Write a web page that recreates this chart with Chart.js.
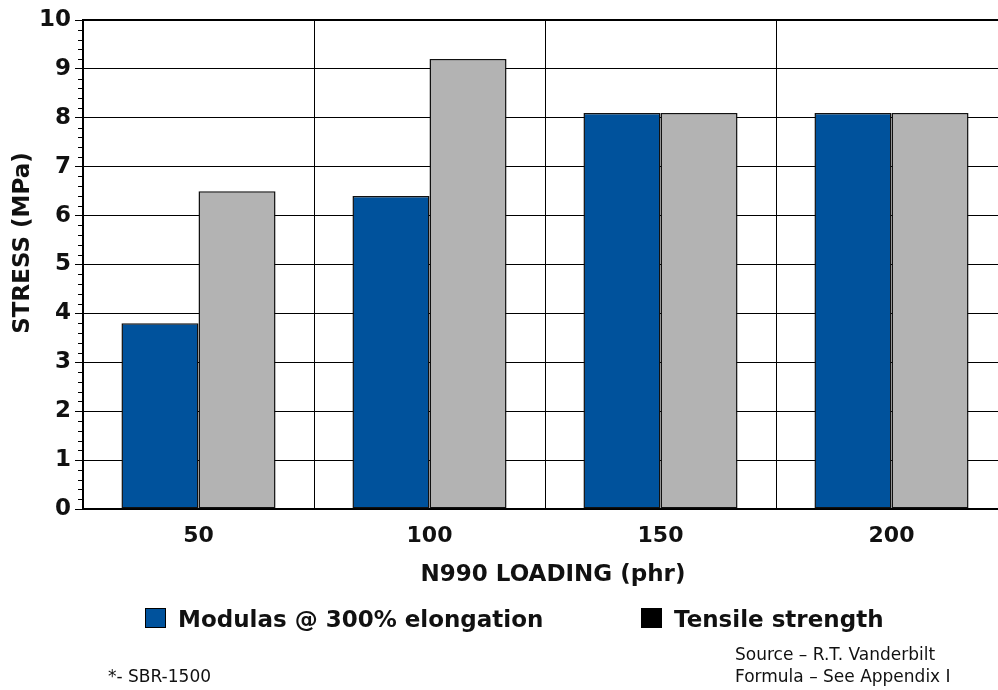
<!DOCTYPE html>
<html>
<head>
<meta charset="utf-8">
<script src="https://cdn.jsdelivr.net/npm/chart.js@4/dist/chart.umd.min.js"></script>
<style>
  html, body { margin: 0; padding: 0; background: #fff; overflow: hidden; }
  #wrap { width: 1012px; height: 690px; }
</style>
</head>
<body>
<div id="wrap"><canvas id="stressChart" width="1012" height="690"></canvas></div>
<script>
const loadings = ['50', '100', '150', '200'];
const modulus = [3.8, 6.4, 8.1, 8.1];
const tensile = [6.5, 9.2, 8.1, 8.1];
const legendLabels = ['Modulas @ 300% elongation', 'Tensile strength'];
const legendColors = ['#00529c', '#000000'];
const sourceLines = ['Source \u2013 R.T. Vanderbilt', 'Formula \u2013 See Appendix I'];
const footnote = '*- SBR-1500';

const BOLD = 'bold 23px "DejaVu Sans", sans-serif';

// extra drawing: frame top, minor ticks, titles, legend, notes
const extrasPlugin = {
  id: 'extrasPlugin',
  afterDraw(chart) {
    const { ctx, chartArea: { top, left, right }, scales: { y } } = chart;
    ctx.save();

    // top frame line
    ctx.strokeStyle = '#000';
    ctx.lineWidth = 2;
    ctx.beginPath();
    ctx.moveTo(left, top);
    ctx.lineTo(right, top);
    ctx.stroke();

    // minor ticks every 0.2
    ctx.lineWidth = 1;
    for (let i = 0; i <= 50; i++) {
      if (i % 5 === 0) continue;
      const py = Math.round(y.getPixelForValue(i / 5)) + 0.5;
      ctx.beginPath();
      ctx.moveTo(left - 5, py);
      ctx.lineTo(left, py);
      ctx.stroke();
    }

    ctx.fillStyle = '#111';
    ctx.font = BOLD;

    // y title
    ctx.save();
    ctx.translate(23, 243);
    ctx.rotate(-Math.PI / 2);
    ctx.textAlign = 'center';
    ctx.textBaseline = 'middle';
    ctx.fillText('STRESS (MPa)', 0, 0);
    ctx.restore();

    // x title
    ctx.textAlign = 'center';
    ctx.textBaseline = 'alphabetic';
    ctx.fillText('N990 LOADING (phr)', 553, 581);

    // legend
    const legendX = [145, 641];
    ctx.textAlign = 'left';
    legendLabels.forEach((label, i) => {
      ctx.fillStyle = legendColors[i];
      ctx.fillRect(legendX[i], 608, 21, 20);
      ctx.strokeStyle = '#000';
      ctx.strokeRect(legendX[i] + 0.5, 608.5, 20, 19);
      ctx.fillStyle = '#111';
      ctx.fillText(label, legendX[i] + 33, 627);
    });

    // notes
    ctx.font = '17px "DejaVu Sans", sans-serif';
    sourceLines.forEach((line, i) => ctx.fillText(line, 735, 660 + i * 22));
    ctx.fillText(footnote, 108, 682);

    ctx.restore();
  }
};

new Chart(document.getElementById('stressChart'), {
  type: 'bar',
  data: {
    labels: loadings,
    datasets: [
      {
        label: legendLabels[0],
        data: modulus,
        backgroundColor: '#00529c',
        borderColor: '#111',
        borderWidth: 1.5,
        borderSkipped: false,
        categoryPercentage: 0.667,
        barPercentage: 1.0
      },
      {
        label: legendLabels[1],
        data: tensile,
        backgroundColor: '#b3b3b3',
        borderColor: '#111',
        borderWidth: 1.5,
        borderSkipped: false,
        categoryPercentage: 0.667,
        barPercentage: 1.0
      }
    ]
  },
  options: {
    responsive: false,
    animation: false,
    layout: { padding: { top: 20, right: 5, bottom: 0, left: 0 } },
    scales: {
      x: {
        offset: true,
        grid: { offset: true, color: '#000', lineWidth: 1, drawTicks: false },
        border: { color: '#000', width: 2 },
        ticks: { color: '#111', font: { family: 'DejaVu Sans', size: 22, weight: 'bold' }, padding: 14 },
        afterFit(scale) { scale.height = 181; }
      },
      y: {
        min: 0,
        max: 10,
        ticks: { stepSize: 1, color: '#111', font: { family: 'DejaVu Sans', size: 23, weight: 'bold' }, padding: 4 },
        grid: { color: '#000', lineWidth: 1, tickLength: 8, tickColor: '#000' },
        border: { color: '#000', width: 2 },
        afterFit(scale) { scale.width = 83; }
      }
    },
    plugins: {
      legend: { display: false },
      tooltip: { enabled: false }
    }
  },
  plugins: [extrasPlugin]
});
</script>
</body>
</html>
